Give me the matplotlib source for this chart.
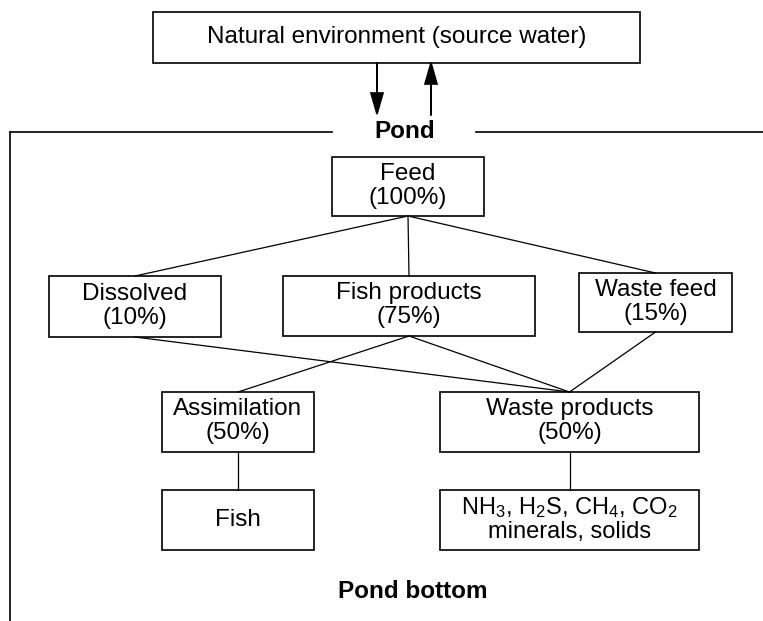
import matplotlib
matplotlib.use("Agg")
import matplotlib.pyplot as plt
from matplotlib.patches import Rectangle

plt.rcParams['font.family'] = ['Liberation Sans', 'DejaVu Sans']
plt.rcParams['mathtext.fontset'] = 'custom'
plt.rcParams['mathtext.rm'] = 'Liberation Sans'
plt.rcParams['mathtext.it'] = 'Liberation Sans:italic'

# --- data ---
source_label = "Natural environment (source water)"
pond_label = "Pond"
bottom_label = "Pond bottom"

node_names = ["Feed", "Dissolved", "Fish products", "Waste feed",
              "Assimilation", "Waste products", "Fish", "Gases"]
node_shares = [100, 10, 75, 15, 50, 50, None, None]
gas_lines = [r"NH$_3$, H$_2$S, CH$_4$, CO$_2$", "minerals, solids"]

links = [
    ("Feed", "Dissolved"),
    ("Feed", "Fish products"),
    ("Feed", "Waste feed"),
    ("Dissolved", "Waste products"),
    ("Fish products", "Assimilation"),
    ("Fish products", "Waste products"),
    ("Waste feed", "Waste products"),
    ("Assimilation", "Fish"),
    ("Waste products", "Gases"),
]

# --- layout (pixel coords, y down) ---
W, H = 763, 621
boxes = {
    "Feed": (332, 157, 484, 216),
    "Dissolved": (49, 276, 221, 337),
    "Fish products": (283, 276, 535, 336),
    "Waste feed": (579, 273, 732, 332),
    "Assimilation": (162, 392, 314, 452),
    "Waste products": (440, 392, 699, 452),
    "Fish": (162, 490, 314, 550),
    "Gases": (440, 490, 699, 550),
}
source_box = (153, 12, 640, 63)
fs = 17.5

fig = plt.figure(figsize=(W / 100, H / 100), dpi=100)
ax = fig.add_axes([0, 0, 1, 1])
ax.set_xlim(0, W)
ax.set_ylim(H, 0)
ax.axis("off")


def draw_box(b, lw=1.2):
    x0, y0, x1, y1 = b
    ax.add_patch(Rectangle((x0, y0), x1 - x0, y1 - y0, fill=False,
                           edgecolor="black", linewidth=lw))


# source box and exchange arrows
draw_box(source_box)
ax.text((source_box[0] + source_box[2]) / 2, (source_box[1] + source_box[3]) / 2,
        source_label, ha="center", va="center", fontsize=fs)
ax.arrow(377, 63, 0, 51, head_width=12, head_length=21, length_includes_head=True,
         fc="black", ec="black", lw=1.2)
ax.arrow(431, 115, 0, -52, head_width=12, head_length=21, length_includes_head=True,
         fc="black", ec="black", lw=1.2)

# pond boundary
ax.plot([9.5, 332], [132, 132], color="black", lw=1.2)
ax.plot([476, W], [132, 132], color="black", lw=1.2)
ax.plot([9.5, 9.5], [132, H], color="black", lw=1.2)
ax.text(405, 131, pond_label, ha="center", va="center", fontsize=fs, fontweight="bold")
ax.text(413, 592, bottom_label, ha="center", va="center", fontsize=fs, fontweight="bold")

# connecting lines
for a, b in links:
    pa, pb = boxes[a], boxes[b]
    ax.plot([(pa[0] + pa[2]) / 2, (pb[0] + pb[2]) / 2], [pa[3], pb[1]],
            color="black", lw=0.9)

# nodes
for name, share in zip(node_names, node_shares):
    b = boxes[name]
    draw_box(b)
    cx, cy = (b[0] + b[2]) / 2, (b[1] + b[3]) / 2
    if name == "Gases":
        ax.text(cx, cy - 12, gas_lines[0], ha="center", va="center", fontsize=fs - 0.5)
        ax.text(cx, cy + 12, gas_lines[1], ha="center", va="center", fontsize=fs - 0.5)
    elif share is None:
        ax.text(cx, cy, name, ha="center", va="center", fontsize=fs)
    else:
        ax.text(cx, cy - 13, name, ha="center", va="center", fontsize=fs)
        ax.text(cx, cy + 11.5, f"({share}%)", ha="center", va="center", fontsize=fs)

fig.savefig("out.png", dpi=100)
